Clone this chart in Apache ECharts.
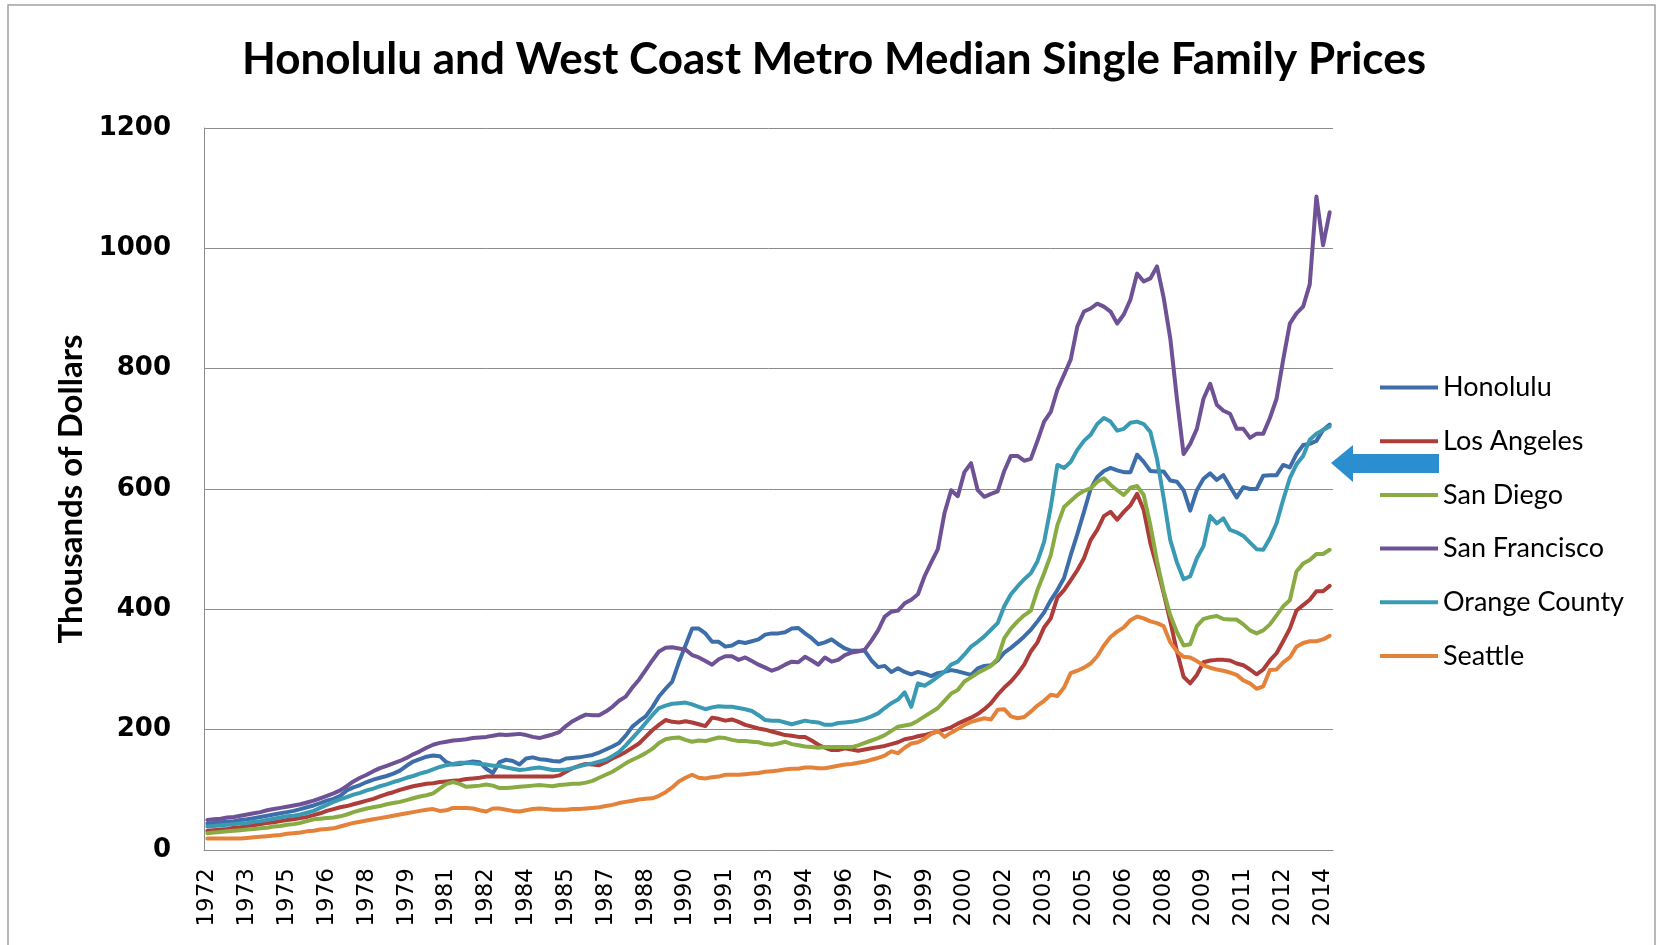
<!DOCTYPE html>
<html>
<head>
<meta charset="utf-8">
<script src="https://cdn.jsdelivr.net/npm/echarts@6/dist/echarts.min.js"></script>
<style>
html,body{margin:0;padding:0;background:#fff;}
#chart{width:1659px;height:945px;}
</style>
</head>
<body>
<div id="chart"></div>
<script>
// Quarterly categories 1972 Q1 .. 2014 Q2
const startYear = 1972;
const quarterCount = 170;
const categories = [];
for (let k = 0; k < quarterCount; k++) {
  categories.push((startYear + Math.floor(k / 4)) + ' Q' + (k % 4 + 1));
}
const yTicks = [0, 200, 400, 600, 800, 1000, 1200];

const honolulu = [
44,45,46,47,48,50,51,53,55,57,
59,61,63,65,68,71,74,78,82,85,
90,99,104,108,113,117,120,123,127,132,
140,147,151,155,157,156,146,142,143,145,
147,146,135,128,146,150,148,142,152,154,
151,150,148,147,152,153,154,156,158,162,
167,172,178,190,205,214,222,237,255,268,
280,312,340,368,368,360,346,346,338,340,
346,344,347,350,358,360,360,362,368,369,
360,352,342,345,350,342,335,331,331,331,
315,304,306,296,302,296,292,296,293,289,
294,296,299,297,294,291,302,306,307,315,
328,336,345,355,366,380,395,415,432,452,
490,525,562,600,620,630,635,631,628,628,
657,645,630,629,629,614,612,598,564,598,
617,626,615,623,604,586,603,600,600,622,
623,623,640,636,658,673,675,680,698,707];

const losAngeles = [
32,33,34,35,37,38,40,41,43,45,
46,48,50,51,53,55,58,61,65,68,
71,73,76,79,82,85,89,93,96,100,
103,106,108,110,111,113,114,115,116,118,
119,120,122,122,122,122,122,122,122,122,
122,122,122,124,130,136,140,143,142,141,
146,152,157,163,170,177,188,199,208,216,
213,212,214,212,209,206,220,218,215,217,
213,208,205,202,200,197,194,191,190,188,
188,182,175,170,166,166,169,167,165,167,
169,171,173,176,179,184,186,189,191,194,
197,200,204,210,215,220,226,234,244,258,
270,280,293,308,330,345,370,385,420,432,
448,465,485,515,532,555,562,549,562,573,
592,565,510,470,427,380,330,288,277,291,
312,315,316,316,315,310,307,300,292,300,
315,327,347,368,398,407,416,430,430,439];

const sanDiego = [
28,29,30,31,32,33,34,35,36,37,
39,40,42,43,45,48,51,52,53,54,
56,59,63,66,69,71,73,76,78,80,
83,86,89,91,94,102,110,113,110,105,
106,107,109,107,103,103,104,105,106,107,
108,107,106,108,109,110,110,112,115,120,
125,130,137,144,150,155,161,168,178,184,
186,187,183,180,182,181,184,187,186,183,
181,181,180,179,176,175,177,180,176,174,
172,171,170,171,171,171,171,171,174,178,
182,186,191,198,205,207,209,215,222,229,
236,248,260,266,280,287,294,300,306,318,
352,368,380,390,398,432,460,490,540,570,
580,590,597,601,612,618,607,598,590,602,
605,590,540,480,430,390,362,340,342,372,
384,387,389,384,383,383,375,365,360,365,
375,390,405,415,463,476,482,492,492,499];

const sanFrancisco = [
50,51,52,54,55,57,59,61,63,66,
68,70,72,74,76,79,82,86,90,94,
99,106,114,120,125,131,136,140,144,148,
153,159,164,170,175,178,180,182,183,184,
186,187,188,190,192,191,192,193,191,188,
186,189,192,196,206,214,220,225,224,224,
230,238,248,255,270,283,299,315,330,336,
337,335,333,324,320,314,308,317,322,322,
316,320,314,308,303,298,302,308,313,312,
321,315,308,320,313,316,324,328,330,333,
348,365,388,396,398,410,416,425,455,478,
500,560,598,588,628,643,598,587,592,596,
630,655,655,647,650,680,712,728,765,790,
815,870,895,900,908,903,895,875,890,915,
958,945,950,970,918,850,750,658,675,700,
750,775,740,730,725,700,700,685,692,692,
718,750,815,875,892,903,940,1086,1005,1060];

const orangeCounty = [
39,40,41,42,43,44,45,47,48,50,
52,54,56,57,59,62,65,70,75,80,
84,88,92,95,99,102,106,109,113,116,
120,123,127,130,134,138,141,143,145,145,
144,143,142,140,140,137,135,133,134,136,
137,135,133,133,134,136,139,142,144,147,
150,156,163,174,186,198,211,224,236,240,
243,244,245,242,238,234,237,239,238,238,
236,234,231,224,216,215,215,212,209,212,
215,213,212,208,208,211,212,213,215,218,
222,227,236,244,250,262,238,277,273,280,
288,296,308,313,325,338,346,355,366,377,
405,425,438,450,460,480,512,570,640,635,
645,665,680,690,708,718,712,697,700,710,
712,708,695,650,585,515,478,450,455,485,
505,555,543,551,532,528,522,511,500,499,
518,543,582,618,641,655,682,692,698,704];

const seattle = [
19,19,19,19,19,19,20,21,22,23,
24,25,27,28,29,31,32,34,35,36,
39,42,45,47,49,51,53,55,57,59,
61,63,65,67,68,65,66,70,70,70,
69,66,64,69,69,67,65,64,66,68,
69,68,67,67,67,68,68,69,70,71,
73,75,78,80,82,84,85,86,90,96,
104,114,120,125,120,119,121,122,125,125,
125,126,127,128,130,131,132,134,135,135,
137,137,136,136,138,140,142,143,145,147,
150,153,157,164,161,170,177,179,185,193,
198,188,195,201,208,213,216,219,217,233,
234,222,219,221,230,240,248,258,256,270,
294,298,303,310,322,340,354,363,370,382,
388,385,380,377,372,345,330,321,320,314,
307,303,300,298,295,291,282,277,268,272,
299,300,312,320,338,344,347,347,350,356];

const seriesNames = ['Honolulu', 'Los Angeles', 'San Diego', 'San Francisco', 'Orange County', 'Seattle'];
const seriesData = [honolulu, losAngeles, sanDiego, sanFrancisco, orangeCounty, seattle];
const seriesColors = ['#3d6eaa', '#ae3c39', '#89ab43', '#6e5295', '#3a9ab4', '#e5823a'];

const chart = echarts.init(document.getElementById('chart'), null, {renderer: 'canvas'});
const gridColor = '#8c8c8c';

chart.setOption({
  animation: false,
  backgroundColor: '#ffffff',
  title: {
    text: 'Honolulu and West Coast Metro Median Single Family Prices',
    left: 829, top: 33, textAlign: 'center',
    textStyle: {fontFamily: 'Lato', fontWeight: 'bold', fontSize: 44, color: '#000'}
  },
  grid: {left: 204, top: 128, width: 1129, height: 722, containLabel: false},
  legend: {
    orient: 'vertical', left: 1375, top: 369,
    itemWidth: 58, itemHeight: 4, itemGap: 26.7, icon: 'rect',
    textStyle: {fontFamily: 'Lato', fontSize: 27, color: '#000', lineHeight: 25},
    data: seriesNames
  },
  xAxis: {
    type: 'category', data: categories, boundaryGap: true,
    axisLine: {show: true, lineStyle: {color: gridColor, width: 1}},
    axisTick: {show: false},
    axisLabel: {
      interval: 5, rotate: 90, margin: 18, color: '#000',
      fontFamily: 'DejaVu Sans', fontSize: 23,
      formatter: function (v) { return v.slice(0, 4); }
    }
  },
  yAxis: {
    type: 'value', min: yTicks[0], max: yTicks[yTicks.length - 1], interval: 200,
    name: 'Thousands of Dollars', nameLocation: 'middle', nameRotate: 90, nameGap: 116,
    nameTextStyle: {fontFamily: 'Lato', fontWeight: 'bold', fontSize: 33, color: '#000'},
    axisLine: {show: true, lineStyle: {color: gridColor, width: 1}},
    axisTick: {show: false},
    splitLine: {show: true, lineStyle: {color: gridColor, width: 1}},
    axisLabel: {margin: 33, color: '#000', fontFamily: 'DejaVu Sans', fontWeight: 'bold', fontSize: 26,
      formatter: function (v) { return String(v); }}
  },
  series: seriesNames.map(function (n, k) {
    return {
      name: n, type: 'line', data: seriesData[k], showSymbol: false, symbol: 'none',
      itemStyle: {color: seriesColors[k]},
      lineStyle: {color: seriesColors[k], width: 4, cap: 'round', join: 'round'}
    };
  }),
  graphic: [
    {type: 'rect', shape: {x: 8, y: 5, width: 1647, height: 970}, style: {fill: 'none', stroke: '#a0a0a0', lineWidth: 1.5}, silent: true},
    {type: 'polygon', shape: {points: [[1331,463],[1353,445],[1353,454],[1439,454],[1439,473],[1353,473],[1353,482]]}, style: {fill: '#2b8fcf'}, silent: true, z: 100}
  ]
});
</script>
</body>
</html>
